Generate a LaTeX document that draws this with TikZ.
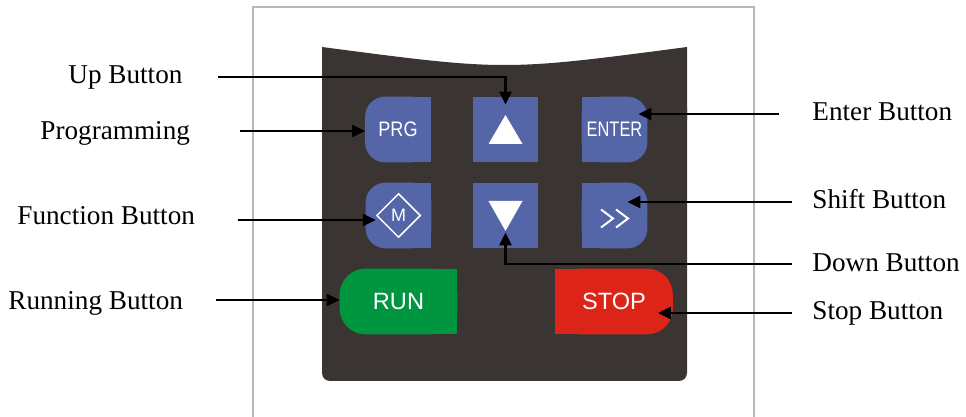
\documentclass[tikz,border=0pt]{standalone}
\usepackage{fontspec}
\setmainfont{Liberation Serif}
\newfontfamily\keyfont{Liberation Sans}
\usepackage{tikz}
\usetikzlibrary{arrows.meta, shapes.geometric, backgrounds}
\definecolor{panelgray}{HTML}{3A3532}
\definecolor{keyblue}{HTML}{5566A8}
\definecolor{rungreen}{HTML}{00963F}
\definecolor{stopred}{HTML}{DC2418}
\definecolor{framegray}{HTML}{B8B8B8}

\begin{document}
\begin{tikzpicture}[x=0.5pt, y=-0.5pt,
        key/.style={minimum width=32.5pt, minimum height=32.5pt, inner sep=0pt,
            text=white, font=\keyfont\fontsize{10.5}{10.5}\selectfont},
        longkey/.style={key, minimum width=58.5pt, font=\keyfont\fontsize{11.8}{11.8}\selectfont},
        callout/.style={anchor=base west, inner sep=0pt, font=\fontsize{13.6}{16}\selectfont},
        pointer/.style={line width=1.3pt, -{Triangle[length=6.5pt, width=6pt]}}]
        \useasboundingbox (0,0) rectangle (966,417);
        % Frame of the housing
        \draw [framegray, line width=0.6pt] (253,417) -- (253,7) -- (754,7) -- (754,417);
        % Keys
        \node (prg) [key] at (398,129.5) {\scalebox{0.86}[1]{PRG}};
        \node (up) [key] at (505.5,129.5) {};
        \node (enter) [key] at (614.5,129.5) {\scalebox{0.78}[1]{ENTER}};
        \node (mode) [key] at (398.5,215.5) {};
        \node (down) [key] at (505.5,215.5) {};
        \node (shift) [key] at (614.5,215.5) {};
        \node (run) [longkey] at (398.5,301.5) {RUN};
        \node (stop) [longkey] at (614,301.5) {STOP};
        \node (mkey) [diamond, draw=white, line width=0.75pt, minimum size=22pt, inner sep=0pt,
            text=white, font=\keyfont\fontsize{9}{9}\selectfont] at (mode) {M};
        % Arrow marks
        \fill [white] (up.center) ++(0,-14.5) -- ++(17,29) -- ++(-34,0) -- cycle;
        \fill [white] (down.center) ++(-17,-14.5) -- ++(34,0) -- ++(-17,30) -- cycle;
        \draw [white, line width=1pt] (shift.center) ++(-13.5,-6) -- ++(12,9) -- ++(-12,9);
        \draw [white, line width=1pt] (shift.center) ++(1.5,-6) -- ++(12,9) -- ++(-12,9);
        \begin{pgfonlayer}{background}
            % Panel
            \fill [panelgray] (322,47) .. controls (504.5,71) .. (687,47) -- (687,120) -- (322,120) -- cycle;
            \fill [panelgray, rounded corners=4pt] (322,100) rectangle (687,381);
            % Key faces
            \fill [keyblue, rounded corners=10pt] (prg.north west) rectangle (prg.south east);
            \fill [keyblue] (prg.north) rectangle (prg.south east);
            \fill [keyblue, rounded corners=10pt] (mode.north west) rectangle (mode.south east);
            \fill [keyblue] (mode.north) rectangle (mode.south east);
            \fill [keyblue] (up.north west) rectangle (up.south east);
            \fill [keyblue] (down.north west) rectangle (down.south east);
            \fill [keyblue, rounded corners=10pt] (enter.north west) rectangle (enter.south east);
            \fill [keyblue] (enter.north west) rectangle (enter.south);
            \fill [keyblue, rounded corners=10pt] (shift.north west) rectangle (shift.south east);
            \fill [keyblue] (shift.north west) rectangle (shift.south);
            \fill [rungreen, rounded corners=13pt] (run.north west) rectangle (run.south east);
            \fill [rungreen] (run.north) rectangle (run.south east);
            \fill [stopred, rounded corners=13pt] (stop.north west) rectangle (stop.south east);
            \fill [stopred] (stop.north west) rectangle (stop.south);
        \end{pgfonlayer}
        % Labels
        \node (lup) [callout] at (68,84) {Up Button};
        \node (lprg) [callout] at (40,140) {Programming};
        \node (lfun) [callout] at (17,225) {Function Button};
        \node (lrun) [callout] at (8,310) {Running Button};
        \node (lent) [callout] at (812,121) {Enter Button};
        \node (lshift) [callout] at (812,209) {Shift Button};
        \node (ldown) [callout] at (812,272) {Down Button};
        \node (lstop) [callout] at (812,320) {Stop Button};
        % Pointers
        \coordinate (tup) at (218,77);
        \coordinate (tprg) at (240,131);
        \coordinate (tfun) at (238,220);
        \coordinate (trun) at (216,300);
        \coordinate (tent) at (779,114);
        \coordinate (tshift) at (792,202);
        \coordinate (tdown) at (792,264);
        \coordinate (tstop) at (792,313);
        \draw [pointer] (tup) -| ([yshift=-4pt]up.north);
        \draw [pointer] (tprg) -- (tprg -| prg.west);
        \draw [pointer] (tfun) -- (tfun -| mkey.west);
        \draw [pointer] (trun) -- (trun -| run.west);
        \draw [pointer] (tent) -- ([xshift=-4.5pt]enter.east |- tent);
        \draw [pointer] (tshift) -- ([xshift=-10pt]shift.east |- tshift);
        \draw [pointer] (tdown) -| ([yshift=8pt]down.south);
        \draw [pointer] (tstop) -- ([xshift=-7.5pt]stop.east |- tstop);
    \end{tikzpicture}
\end{document}
